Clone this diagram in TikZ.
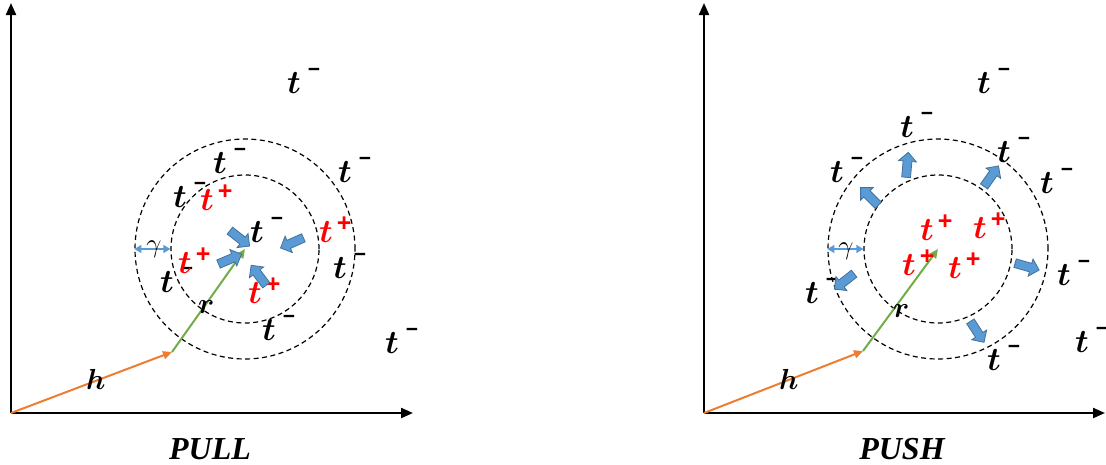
\RequirePackage{fix-cm}
\documentclass[tikz,border=0pt]{standalone}
\usepackage{amsmath,amssymb}
\usepackage{bm}
\usepackage{fontspec}
\usepackage{tikz}
\usetikzlibrary{arrows.meta, shapes.arrows}
\usepackage{xcolor}

\newfontfamily\titlefont{Liberation Serif}
\newfontfamily\supfont{Liberation Sans}

\definecolor{hcol}{RGB}{237,125,49}
\definecolor{rcol}{RGB}{112,173,71}
\definecolor{arrfill}{RGB}{91,155,213}
\definecolor{arredge}{RGB}{65,113,156}

\newcommand{\tneg}{$\bm{t}$\hspace{7pt}\raisebox{17pt}{\fontsize{21}{21}\supfont\bfseries −}}
\newcommand{\tpos}{$\bm{t}$\hspace{4pt}\raisebox{11pt}{\fontsize{25}{25}\supfont\bfseries +}}

\begin{document}
\begin{tikzpicture}[
        x=1pt, y=-1pt,
        every node/.style={inner sep=0pt, font=\fontsize{33}{36}\selectfont},
        lab/.style={anchor=base west},
        poslab/.style={anchor=base west, text=red},
        ring/.style={circle, draw, dash pattern=on 5pt off 3.5pt, line width=1.2pt},
        axis/.style={-{Triangle[length=12pt, width=10pt]}, line width=2.2pt},
        hvec/.style={-{Triangle[length=9pt, width=8pt]}, line width=2pt, draw=hcol},
        rvec/.style={-{Triangle[length=9pt, width=8pt]}, line width=2pt, draw=rcol},
        gap/.style={{Triangle[length=7pt, width=8pt]}-{Triangle[length=7pt, width=8pt]}, line width=1.3pt, draw=arrfill},
        blockarr/.style={single arrow, draw=arredge, fill=arrfill, line width=0.8pt,
            inner sep=4pt, minimum height=25pt, single arrow head extend=4.5pt},
        small/.style={font=\fontsize{29}{30}\selectfont},
        title/.style={anchor=base, font=\fontsize{32}{36}\titlefont\bfseries\itshape},
    ]
    \useasboundingbox (0,0) rectangle (1106,464);

    % PULL
    \coordinate (oL) at (11,413);
    \coordinate (yL) at (11,3);
    \coordinate (xL) at (413,413);
    \coordinate (hL) at (172,352);
    \coordinate (cL) at (245,249);
    \draw[axis] (oL) -- (yL);
    \draw[axis] (oL) -- (xL);
    \node[ring, minimum size=220pt] (outL) at (cL) {};
    \node[ring, minimum size=148pt] (inL) at (cL) {};
    \draw[hvec] (oL) -- (hL);
    \draw[rvec] (hL) -- (cL);
    \draw[gap] (outL.west) -- (inL.west);
    \node[font=\fontsize{27}{28}\selectfont, anchor=base] (gL) at (154,252) {$\gamma$};
    \node[small, lab] (hlabL) at (86,389) {$\bm{h}$};
    \node[small, lab] (rlabL) at (198,313) {$\bm{r}$};
    \node[lab] (nL1) at (287,93) {\tneg};
    \node[lab] (nL2) at (213,173) {\tneg};
    \node[lab] (nL3) at (338,182) {\tneg};
    \node[lab] (nL4) at (173,207) {\tneg};
    \node[lab] (nL5) at (250,242) {\tneg};
    \node[lab] (nL6) at (160,292) {\tneg};
    \node[lab] (nL7) at (333,278) {\tneg};
    \node[lab] (nL8) at (262,340) {\tneg};
    \node[lab] (nL9) at (385,353) {\tneg};
    \node[poslab] (pL1) at (200,210) {\tpos};
    \node[poslab] (pL2) at (319,242) {\tpos};
    \node[poslab] (pL3) at (178,273) {\tpos};
    \node[poslab] (pL4) at (248,303) {\tpos};
    \node[blockarr, rotate=-38] (aL1) at (238,237) {};
    \node[blockarr, rotate=-156] (aL2) at (294,242) {};
    \node[blockarr, rotate=23] (aL3) at (228,260) {};
    \node[blockarr, rotate=127] (aL4) at (260,277) {};
    \node[title] (pull) at (210,459) {PULL};

    % PUSH
    \coordinate (oR) at (704,413);
    \coordinate (yR) at (704,3);
    \coordinate (xR) at (1105,413);
    \coordinate (hR) at (863,351);
    \coordinate (cR) at (938,249);
    \draw[axis] (oR) -- (yR);
    \draw[axis] (oR) -- (xR);
    \node[ring, minimum size=220pt] (outR) at (cR) {};
    \node[ring, minimum size=148pt] (inR) at (cR) {};
    \draw[hvec] (oR) -- (hR);
    \draw[rvec] (hR) -- (cR);
    \draw[gap] (outR.west) -- (inR.west);
    \node[font=\fontsize{27}{28}\selectfont, anchor=base] (gR) at (846,254) {$\gamma$};
    \node[small, lab] (hlabR) at (779,389) {$\bm{h}$};
    \node[small, lab] (rlabR) at (893,317) {$\bm{r}$};
    \node[lab] (nR1) at (977,93) {\tneg};
    \node[lab] (nR2) at (900,137) {\tneg};
    \node[lab] (nR3) at (830,182) {\tneg};
    \node[lab] (nR4) at (997,162) {\tneg};
    \node[lab] (nR5) at (1040,193) {\tneg};
    \node[lab] (nR6) at (805,303) {\tneg};
    \node[lab] (nR7) at (1057,285) {\tneg};
    \node[lab] (nR8) at (987,370) {\tneg};
    \node[lab] (nR9) at (1075,352) {\tneg};
    \node[poslab] (pR1) at (920,240) {\tpos};
    \node[poslab] (pR2) at (973,238) {\tpos};
    \node[poslab] (pR3) at (902,275) {\tpos};
    \node[poslab] (pR4) at (948,278) {\tpos};
    \node[blockarr, rotate=85] (aR1) at (907,167) {};
    \node[blockarr, rotate=135] (aR2) at (871,198) {};
    \node[blockarr, rotate=55] (aR3) at (990,178) {};
    \node[blockarr, rotate=-16] (aR4) at (1025,266) {};
    \node[blockarr, rotate=-142] (aR5) at (846,280) {};
    \node[blockarr, rotate=-57] (aR6) at (976,330) {};
    \node[title] (push) at (902,459) {PUSH};
\end{tikzpicture}
\end{document}
